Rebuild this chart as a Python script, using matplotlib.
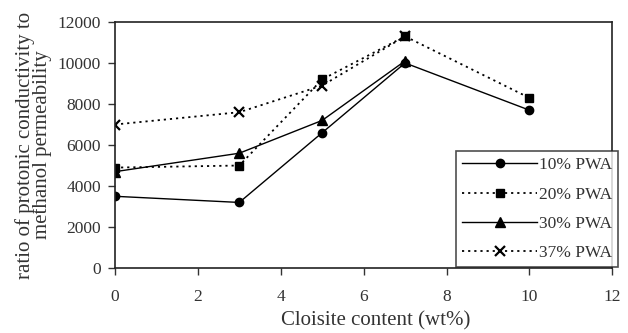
import matplotlib
matplotlib.use("Agg")
import matplotlib.pyplot as plt

x_10 = [0, 3, 5, 7, 10]
y_10 = [3500, 3200, 6600, 10000, 7700]
x_20 = [0, 3, 5, 7, 10]
y_20 = [4900, 5000, 9200, 11300, 8300]
x_30 = [0, 3, 5, 7]
y_30 = [4700, 5600, 7200, 10100]
x_37 = [0, 3, 5, 7]
y_37 = [7000, 7600, 8900, 11300]
labels = ["10% PWA", "20% PWA", "30% PWA", "37% PWA"]
xticks = [0, 2, 4, 6, 8, 10, 12]
yticks = [0, 2000, 4000, 6000, 8000, 10000, 12000]

plt.rcParams['font.family'] = ['Liberation Serif', 'DejaVu Serif']
fig = plt.figure(figsize=(6.28, 3.33), dpi=100)
ax = fig.add_axes([0.183, 0.195, 0.792, 0.739])

dot = (0, (1.2, 2.2))
ax.plot(x_10, y_10, color='black', lw=1.0, ls='-', marker='o', ms=6, label=labels[0])
ax.plot(x_20, y_20, color='black', lw=1.3, ls=dot, marker='s', ms=5.5, label=labels[1])
ax.plot(x_30, y_30, color='black', lw=1.0, ls='-', marker='^', ms=6.5, label=labels[2])
ax.plot(x_37, y_37, color='black', lw=1.3, ls=dot, marker='x', ms=6.5, mew=1.6, label=labels[3])

ax.set_xlim(0, 12)
ax.set_ylim(0, 12000)
ax.set_xticks(xticks)
ax.set_yticks(yticks)
ax.tick_params(direction='out', length=5, width=1, labelsize=12.5, colors='#333333', labelcolor='#333333')
ax.tick_params(axis='x', pad=10)
ax.tick_params(axis='y', pad=5)
for s in ax.spines.values():
    s.set_linewidth(1.2)
    s.set_color('#222222')

ax.set_xlabel("Cloisite content (wt%)", fontsize=15, color='#333333')
ax.xaxis.set_label_coords(0.525, -0.175)
ax.set_ylabel("ratio of protonic conductivity to\nmethanol permeability", fontsize=15,
              color='#333333', linespacing=0.85, labelpad=4)

leg = ax.legend(loc='lower right', bbox_to_anchor=(618/628, 66/333), bbox_transform=fig.transFigure,
                fontsize=12.5, frameon=True, fancybox=False, edgecolor='#222222',
                handlelength=4.3, handletextpad=0.1, borderpad=0.35, labelspacing=0.75,
                borderaxespad=0)
leg.get_frame().set_linewidth(1.2)
for t in leg.get_texts():
    t.set_color('#333333')

fig.savefig("out.png", dpi=100)
